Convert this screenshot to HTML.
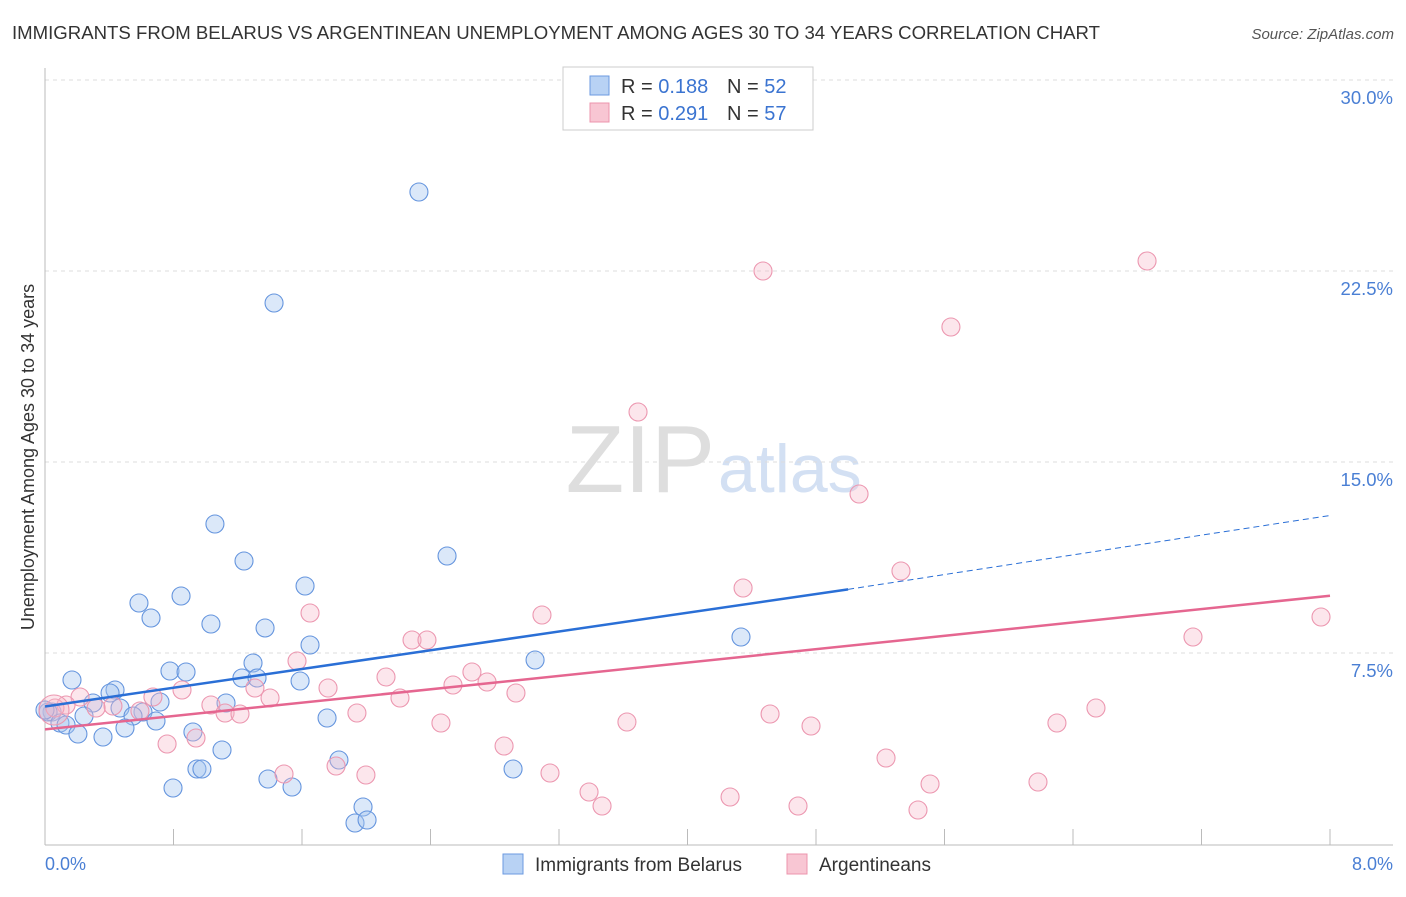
<!DOCTYPE html>
<html><head><meta charset="utf-8"><style>
body{margin:0;background:#fff;font-family:"Liberation Sans",sans-serif}
svg text{font-family:"Liberation Sans",sans-serif}
</style></head><body>
<svg width="1406" height="892">
<text x="12" y="39" font-size="18.6" fill="#333">IMMIGRANTS FROM BELARUS VS ARGENTINEAN UNEMPLOYMENT AMONG AGES 30 TO 34 YEARS CORRELATION CHART</text>
<text x="1394" y="39" font-size="15" fill="#555" font-style="italic" text-anchor="end">Source: ZipAtlas.com</text>
<text x="715" y="492" font-size="96" fill="#dedede" text-anchor="end" font-family="Liberation Serif">ZIP</text>
<text x="718" y="492" font-size="68" fill="#d3e0f3">atlas</text>
<g id="grid"></g><g id="axes"></g><g id="pts"></g><g id="lines"></g>
<text transform="translate(34,457) rotate(-90)" font-size="18" fill="#333" text-anchor="middle">Unemployment Among Ages 30 to 34 years</text>
<text x="45" y="870" font-size="18" fill="#4a7fd4">0.0%</text>
<text x="1393" y="870" font-size="18" fill="#4a7fd4" text-anchor="end">8.0%</text>
<g>
<rect x="563" y="67" width="250" height="63" fill="#fff" stroke="#ccc"/>
<rect x="590" y="76" width="19" height="19" fill="#b8d2f4" stroke="#6b9ae0"/>
<rect x="590" y="103" width="19" height="19" fill="#f8c6d3" stroke="#ec94ad"/>
<text x="621" y="93" font-size="20" fill="#333">R = <tspan fill="#3b74d1">0.188</tspan></text>
<text x="727" y="93" font-size="20" fill="#333">N = <tspan fill="#3b74d1">52</tspan></text>
<text x="621" y="120" font-size="20" fill="#333">R = <tspan fill="#3b74d1">0.291</tspan></text>
<text x="727" y="120" font-size="20" fill="#333">N = <tspan fill="#3b74d1">57</tspan></text>
</g>
<g>
<rect x="503" y="854" width="20" height="20" fill="#b8d2f4" stroke="#6b9ae0"/>
<text x="535" y="871" font-size="19" fill="#333">Immigrants from Belarus</text>
<rect x="787" y="854" width="20" height="20" fill="#f8c6d3" stroke="#ec94ad"/>
<text x="819" y="871" font-size="19" fill="#333">Argentineans</text>
</g>
</svg>
<script>
const yTicks=[7.5,15,22.5,30];
const xTicks=[0,0.8,1.6,2.4,3.2,4.0,4.8,5.6,6.4,7.2,8.0];
const bluePx=[[419,192],[274,303],[215,524],[244,561],[447,556],[305,586],[139,603],[181,596],[151,618],[211,624],[265,628],[310,645],[741,637],[535,660],[170,671],[186,672],[253,663],[242,678],[257,678],[300,681],[72,680],[115,690],[110,693],[226,703],[160,702],[93,703],[120,708],[52,712],[48,712],[143,712],[84,716],[133,716],[60,723],[66,725],[156,721],[327,718],[125,728],[78,734],[103,737],[193,732],[222,750],[339,760],[197,769],[202,769],[513,769],[268,779],[292,787],[173,788],[363,807],[355,823],[367,820],[45,710]];
const pinkPx=[[1147,261],[763,271],[951,327],[638,412],[859,494],[901,571],[743,588],[310,613],[542,615],[412,640],[427,640],[1193,637],[1321,617],[297,661],[472,672],[386,677],[487,682],[453,685],[182,690],[328,688],[516,693],[255,688],[400,698],[270,698],[153,697],[80,697],[211,705],[113,706],[96,708],[66,705],[55,708],[225,713],[240,714],[357,713],[770,714],[1096,708],[140,711],[441,723],[627,722],[811,726],[1057,723],[167,744],[196,738],[504,746],[886,758],[336,766],[284,774],[366,775],[550,773],[930,784],[1038,782],[589,792],[602,806],[730,797],[798,806],[918,810],[54,710]];
const blueX=bluePx.map(p=>+((p[0]-45)/1285*8).toFixed(3));
const blueY=bluePx.map(p=>+((844-p[1])/191*7.5).toFixed(3));
const pinkX=pinkPx.map(p=>+((p[0]-45)/1285*8).toFixed(3));
const pinkY=pinkPx.map(p=>+((844-p[1])/191*7.5).toFixed(3));
const blueTrend=[[0,5.4],[5.0,10.0],[8.0,12.9]];
const pinkTrend=[[0,4.5],[8.0,9.75]];
const NS='http://www.w3.org/2000/svg';
const sx=v=>45+v/8*1285, sy=v=>844-v/7.5*191;
function mk(t,a,parent){const e=document.createElementNS(NS,t);for(const k in a)e.setAttribute(k,a[k]);document.getElementById(parent).appendChild(e);return e;}
yTicks.forEach(t=>{
 const g=mk('line',{x1:45,x2:1393,y1:sy(t),y2:sy(t),stroke:'#ddd','stroke-dasharray':'4,4'},'grid');
 
 
 const tx=mk('text',{x:1393,y:sy(t)+24,'font-size':18.5,fill:'#4a7fd4','text-anchor':'end'},'grid');
 tx.textContent=t.toFixed(1)+'%';
 
 
});
const ax=mk('line',{x1:45,x2:45,y1:68,y2:845,stroke:'#bbb'},'axes');


const bx=mk('line',{x1:45,x2:1393,y1:845,y2:845,stroke:'#bbb'},'axes');


xTicks.forEach(t=>{if(t===0)return;
 const l=mk('line',{x1:sx(t),x2:sx(t),y1:829,y2:845,stroke:'#bbb'},'axes');
 
 
});
blueX.forEach((x,i)=>{
 const c=mk('circle',{cx:sx(x),cy:sy(blueY[i]),r:9,fill:'rgba(165,198,240,0.4)',stroke:'#6595de','stroke-width':1.1},'pts');
 
 
});
pinkX.forEach((x,i)=>{
 const big=i===pinkX.length-1;
 const c=mk('circle',{cx:sx(x),cy:sy(pinkY[i]),r:big?15:9,fill:'rgba(247,182,200,0.35)',stroke:'#ec97b0','stroke-width':1.1},'pts');
 
 
});
const b1=mk('line',{x1:sx(blueTrend[0][0]),y1:sy(blueTrend[0][1]),x2:sx(blueTrend[1][0]),y2:sy(blueTrend[1][1]),stroke:'#2a6fd6','stroke-width':2.5},'lines');


const b2=mk('line',{x1:sx(blueTrend[1][0]),y1:sy(blueTrend[1][1]),x2:sx(blueTrend[2][0]),y2:sy(blueTrend[2][1]),stroke:'#2a6fd6','stroke-width':1,'stroke-dasharray':'6,4'},'lines');


const p1=mk('line',{x1:sx(pinkTrend[0][0]),y1:sy(pinkTrend[0][1]),x2:sx(pinkTrend[1][0]),y2:sy(pinkTrend[1][1]),stroke:'#e56690','stroke-width':2.5},'lines');


</script>
</body></html>
